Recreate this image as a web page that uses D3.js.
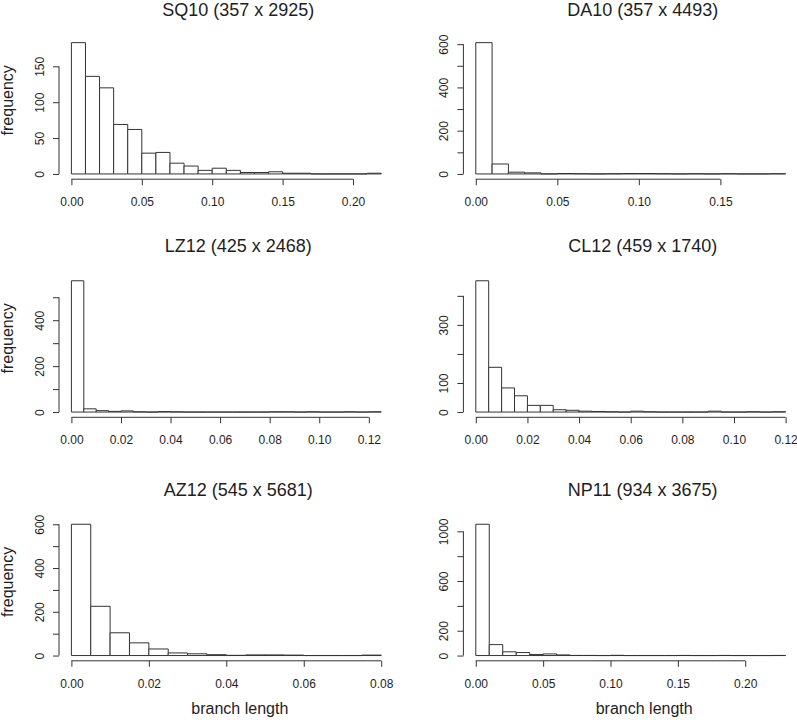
<!DOCTYPE html>
<html><head><meta charset="utf-8">
<script src="https://cdn.jsdelivr.net/npm/d3@7"></script>
<style>body{margin:0;background:#fff}svg{display:block}</style>
</head><body><svg id="c" width="797" height="720"></svg>
<script>
// ---- data ----
const titles = ["SQ10 (357 x 2925)", "DA10 (357 x 4493)", "LZ12 (425 x 2468)",
                "CL12 (459 x 1740)", "AZ12 (545 x 5681)", "NP11 (934 x 3675)"];
const binWidths = [0.01, 0.01, 0.005, 0.005, 0.005, 0.01];
const countsSQ10 = [183,136,120,69,62,29,30,15,11,5,8,5,2,2,3,1,1,0,0,0,0,1];
const countsDA10 = [607,46,8,5,0,2,1,0,1,2,2,1,0,1,0,1,0,0,1];
const countsLZ12 = [572,14,6,3,5,1,0,2,1,0,0,0,0,0,0,0,1,1,0,1,0,0,1,0,1];
const countsCL12 = [452,154,83,56,23,23,8,6,3,2,1,0,3,1,0,0,0,0,3,0,0,1,0,1];
const countsAZ12 = [600,225,104,58,30,12,8,4,1,3,3,2,0,0,0,2];
const countsNP11 = [1057,88,30,24,8,13,5,1,1,0,2,0,0,0,0,1,0,0,1,0,0,0,1];
const counts = [countsSQ10, countsDA10, countsLZ12, countsCL12, countsAZ12, countsNP11];
const xTicks = [
  [0, 0.05, 0.10, 0.15, 0.20],
  [0, 0.05, 0.10, 0.15],
  [0, 0.02, 0.04, 0.06, 0.08, 0.10, 0.12],
  [0, 0.02, 0.04, 0.06, 0.08, 0.10, 0.12],
  [0, 0.02, 0.04, 0.06, 0.08],
  [0, 0.05, 0.10, 0.15, 0.20]
];
const yTicks = [
  [0, 50, 100, 150],
  [0, 100, 200, 300, 400, 500, 600],
  [0, 100, 200, 300, 400, 500],
  [0, 100, 200, 300, 400],
  [0, 100, 200, 300, 400, 500, 600],
  [0, 200, 400, 600, 800, 1000]
];
const yTickLabels = [
  [0, 50, 100, 150],
  [0, 200, 400, 600],
  [0, 200, 400],
  [0, 100, 300],
  [0, 200, 400, 600],
  [0, 200, 600, 1000]
];
const xLabel = "branch length";
const yLabel = "frequency";

// ---- layout ----
const colLeft = [59, 463.4], plotW = 334.6;
const rowTop = [37.4, 275.5, 519], plotH = 141.8;
const titleY = [16.4, 252, 495.5];
const FONT = "'Liberation Sans', Arial, Helvetica, sans-serif";
const INK = "#1e1e1e", LINE = "#333";

const svg = d3.select("#c").style("font-family", FONT);

titles.forEach((title, i) => {
  const col = i % 2, row = Math.floor(i / 2);
  const L = colLeft[col], T = rowTop[row];
  const data = counts[i], bw = binWidths[i];
  const xmax = data.length * bw, ymax = d3.max(data);
  const x = d3.scaleLinear().domain([-0.04 * xmax, 1.04 * xmax]).range([L, L + plotW]);
  const y = d3.scaleLinear().domain([-0.04 * ymax, 1.04 * ymax]).range([T + plotH, T]);
  const g = svg.append("g");

  // bars (paths so that zero-count bins still show as a baseline segment)
  g.selectAll("path.bar").data(data).join("path")
    .attr("class", "bar")
    .attr("d", (d, k) => {
      const x0 = x(k * bw), x1 = x((k + 1) * bw), y0 = y(0), y1 = y(d);
      return `M${x0},${y0}V${y1}H${x1}V${y0}Z`;
    })
    .attr("fill", "#fff").attr("stroke", LINE).attr("stroke-width", 1);

  // x axis
  const xt = xTicks[i];
  const ax = g.append("g").attr("transform", `translate(0,${T + plotH})`)
    .call(d3.axisBottom(x).tickValues(xt).tickSize(6).tickFormat(d3.format(".2f")));
  ax.select(".domain").remove();
  ax.append("line").attr("x1", x(xt[0])).attr("x2", x(xt[xt.length - 1]))
    .attr("y1", 0).attr("y2", 0).attr("stroke", LINE);
  ax.selectAll(".tick line").attr("stroke", LINE);
  ax.selectAll(".tick text").attr("y", 27).attr("dy", null)
    .attr("fill", INK).style("font-size", "12px").style("font-family", FONT);

  // y axis
  const yt = yTicks[i], labs = yTickLabels[i];
  const ay = g.append("g").attr("transform", `translate(${L},0)`)
    .call(d3.axisLeft(y).tickValues(yt).tickSize(6)
      .tickFormat(d => labs.includes(d) ? String(d) : ""));
  ay.select(".domain").remove();
  ay.append("line").attr("y1", y(yt[0])).attr("y2", y(yt[yt.length - 1]))
    .attr("x1", 0).attr("x2", 0).attr("stroke", LINE);
  ay.selectAll(".tick line").attr("stroke", LINE);
  ay.selectAll(".tick text").attr("x", null).attr("dy", null)
    .attr("transform", "translate(-15,0) rotate(-90)")
    .attr("text-anchor", "middle")
    .attr("fill", INK).style("font-size", "12px").style("font-family", FONT);

  // title
  g.append("text").attr("x", L + plotW / 2 + 12).attr("y", titleY[row])
    .attr("text-anchor", "middle").attr("fill", INK)
    .style("font-size", "18px").text(title);

  // y label on left column
  if (col === 0) {
    g.append("text")
      .attr("transform", `translate(12.5,${T + plotH / 2 - 8}) rotate(-90)`)
      .attr("text-anchor", "middle").attr("fill", INK)
      .style("font-size", "16px").text(yLabel);
  }
  // x label on bottom row
  if (row === 2) {
    g.append("text").attr("x", L + plotW / 2 + 13.5).attr("y", 713.5)
      .attr("text-anchor", "middle").attr("fill", INK)
      .style("font-size", "16px").text(xLabel);
  }
});
</script></body></html>
